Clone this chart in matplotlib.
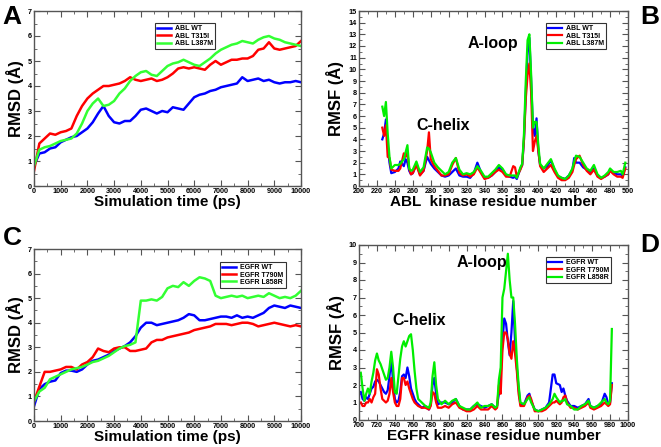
import numpy as np
import matplotlib.pyplot as plt
from matplotlib.ticker import MultipleLocator

plt.rcParams['font.family'] = ['Liberation Sans', 'DejaVu Sans']
plt.rcParams['font.weight'] = 'bold'

# ---- RMSD time grid (ps), every 200 ps ----
time_ps = np.arange(0, 10001, 200)

abl_wt = [0.8, 1.3, 1.35, 1.5, 1.55, 1.75, 1.85, 1.95, 2.0, 2.15, 2.3, 2.55, 2.9, 3.2, 2.8,
          2.55, 2.5, 2.6, 2.6, 2.8, 3.05, 3.1, 3.0, 2.9, 3.0, 2.95, 3.15, 3.1, 3.05, 3.3,
          3.55, 3.65, 3.7, 3.8, 3.85, 3.95, 4.0, 4.05, 4.1, 4.35, 4.2, 4.25, 4.3, 4.2, 4.25,
          4.15, 4.1, 4.15, 4.15, 4.2, 4.15]
abl_t315i = [0.6, 1.7, 1.9, 2.1, 2.05, 2.15, 2.2, 2.3, 2.8, 3.2, 3.5, 3.7, 3.85, 4.0, 4.0,
             4.05, 4.1, 4.2, 4.35, 4.25, 4.2, 4.25, 4.3, 4.2, 4.25, 4.35, 4.5, 4.7, 4.75, 4.7,
             4.75, 4.7, 4.65, 4.85, 5.0, 4.85, 4.95, 5.05, 5.05, 5.1, 5.1, 5.2, 5.45, 5.5, 5.75,
             5.5, 5.45, 5.5, 5.55, 5.6, 5.8]
abl_l387m = [0.8, 1.45, 1.55, 1.6, 1.7, 1.8, 1.85, 1.9, 2.1, 2.5, 3.0, 3.3, 3.5, 3.2, 3.25,
             3.4, 3.7, 3.9, 4.2, 4.4, 4.55, 4.6, 4.45, 4.4, 4.6, 4.8, 4.9, 4.95, 5.05, 4.95,
             4.85, 4.8, 4.95, 5.1, 5.3, 5.45, 5.55, 5.65, 5.7, 5.8, 5.75, 5.7, 5.85, 5.95, 6.0,
             5.9, 5.85, 5.75, 5.7, 5.65, 5.6]

egfr_wt = [0.6, 1.3, 1.5, 1.6, 1.65, 1.95, 2.05, 2.05, 2.0, 2.1, 2.3, 2.45, 2.5, 2.6, 2.7,
           2.85, 2.95, 3.05, 3.2, 3.45, 3.8, 4.0, 4.0, 3.9, 3.95, 4.0, 4.05, 4.1, 4.2, 4.35,
           4.3, 4.1, 4.1, 4.15, 4.2, 4.25, 4.25, 4.2, 4.3, 4.2, 4.25, 4.2, 4.3, 4.4, 4.6,
           4.7, 4.65, 4.6, 4.7, 4.65, 4.6]
egfr_t790m = [0.8, 1.4, 2.0, 2.0, 2.05, 2.1, 2.2, 2.2, 2.1, 2.3, 2.4, 2.6, 2.95, 2.85, 2.8,
              2.95, 3.0, 3.0, 2.85, 2.85, 2.9, 2.95, 3.2, 3.3, 3.3, 3.4, 3.45, 3.5, 3.55, 3.6,
              3.7, 3.75, 3.8, 3.85, 3.95, 3.95, 3.95, 3.9, 3.95, 4.0, 4.0, 3.95, 3.85, 3.9, 3.95,
              4.0, 3.95, 3.9, 3.85, 3.9, 3.85]
egfr_l858r = [0.8, 1.2, 1.35, 1.7, 1.8, 1.9, 2.0, 2.1, 2.15, 2.2, 2.3, 2.4, 2.45, 2.55, 2.65,
              2.8, 2.95, 3.05, 3.1, 3.2, 4.9, 4.9, 4.95, 4.9, 5.05, 5.4, 5.5, 5.45, 5.65, 5.5,
              5.7, 5.85, 5.8, 5.7, 5.1, 5.0, 5.05, 5.1, 5.05, 5.1, 5.0, 5.05, 5.1, 5.05, 5.2,
              5.1, 5.0, 5.05, 5.0, 5.1, 5.3]

# ---- ABL RMSF ----
abl_res = [226, 228, 230, 232, 234, 236, 240, 244, 246, 250, 252, 254, 256, 258, 260, 264,
           268, 272, 276, 278, 280, 284, 288, 292, 296, 300, 304, 308, 312, 316, 320, 324,
           328, 332, 336, 340, 344, 348, 352, 356, 360, 364, 368, 372, 374, 376, 380, 382,
           384, 386, 388, 390, 392, 394, 396, 398, 400, 402, 406, 410, 414, 418, 422, 426,
           430, 434, 438, 440, 442, 446, 450, 454, 458, 462, 466, 470, 474, 478, 480, 484,
           488, 492, 494, 497]
abl_rmsf_wt = [4.0, 4.5, 5.7, 3.5, 2.0, 1.1, 1.2, 1.5, 2.1, 1.7, 2.3, 2.0, 1.3, 1.0, 1.1, 1.9,
               1.0, 1.3, 2.5, 2.2, 1.9, 1.5, 1.2, 0.9, 0.8, 0.9, 1.2, 1.5, 0.9, 0.8, 0.8, 0.7,
               1.1, 2.0, 1.2, 0.7, 0.7, 0.9, 1.2, 1.6, 1.4, 0.9, 0.8, 0.7, 0.8, 0.6, 1.5, 1.8,
               4.0, 8.0, 11.5, 12.7, 9.0, 5.0, 4.3, 5.8, 3.0, 1.8, 1.5, 1.7, 2.2, 1.4, 0.8, 0.7,
               0.6, 0.9, 1.4, 2.4, 2.0, 2.0, 1.6, 1.4, 1.2, 1.5, 0.9, 0.7, 0.8, 1.0, 1.4, 1.1,
               1.0, 1.0, 0.9, 1.6]
abl_rmsf_t315i = [5.0, 4.3, 5.2, 2.5, 2.4, 1.4, 1.3, 1.3, 1.5, 2.8, 2.5, 2.9, 1.5, 1.0, 1.1, 1.8,
                  0.9, 1.3, 3.0, 4.6, 2.3, 1.7, 1.3, 0.9, 0.9, 1.0, 1.8, 2.4, 1.1, 0.9, 1.0, 0.8,
                  1.0, 1.6, 1.1, 0.6, 0.7, 0.9, 1.2, 1.4, 1.2, 0.8, 0.8, 1.7, 1.6, 0.8, 1.4, 1.8,
                  4.0, 7.5, 9.5, 10.5, 8.0, 3.0, 3.8, 4.3, 3.0, 1.7, 1.2, 1.5, 1.8, 1.2, 0.7, 0.5,
                  0.5, 0.7, 1.2, 1.8, 2.3, 2.6, 1.8, 1.3, 1.0, 1.4, 0.8, 0.6, 0.8, 1.0, 1.3, 1.0,
                  0.8, 0.8, 0.7, 1.5]
abl_rmsf_l387m = [6.8, 6.0, 7.2, 4.5, 2.5, 1.5, 1.8, 1.8, 1.9, 2.3, 2.9, 3.5, 1.5, 1.3, 1.4, 2.1,
                  1.2, 1.6, 3.3, 3.2, 2.9, 2.0, 1.6, 1.3, 1.0, 1.2, 2.0, 2.4, 1.4, 1.0, 1.1, 1.0,
                  1.2, 1.7, 1.3, 0.8, 0.8, 1.1, 1.4, 1.8, 1.5, 1.0, 0.9, 0.9, 0.9, 0.7, 1.6, 1.9,
                  4.5, 9.0, 12.5, 13.0, 9.5, 5.0, 5.5, 5.5, 3.5, 1.9, 1.5, 1.9, 2.3, 1.5, 0.9, 0.7,
                  0.6, 0.9, 1.5, 2.1, 2.6, 2.5, 2.0, 1.5, 1.3, 1.8, 1.0, 0.7, 0.9, 1.2, 1.5, 1.2,
                  1.2, 1.3, 1.0, 2.0]

# ---- EGFR RMSF ----
egfr_res = [702, 704, 706, 708, 710, 712, 714, 716, 718, 720, 722, 724, 726, 728, 730, 732,
            734, 736, 738, 740, 742, 744, 746, 748, 750, 752, 754, 756, 758, 760, 762, 764,
            766, 770, 774, 778, 780, 782, 784, 786, 788, 792, 796, 800, 804, 808, 812, 816,
            820, 824, 828, 832, 836, 840, 844, 848, 852, 854, 856, 858, 860, 862, 864, 866,
            868, 870, 872, 874, 876, 878, 880, 884, 888, 890, 892, 896, 900, 904, 908, 912,
            916, 918, 920, 924, 926, 928, 930, 932, 936, 940, 944, 948, 952, 956, 958, 962,
            966, 970, 974, 976, 978, 980, 982]
egfr_rmsf_wt = [1.6, 1.2, 1.1, 1.3, 1.2, 1.5, 1.8, 1.9, 2.2, 2.3, 2.2, 2.0, 1.8, 1.6, 1.5, 1.7,
                2.5, 3.5, 2.2, 1.2, 1.0, 1.1, 1.6, 2.5, 2.6, 2.4, 3.0, 2.5, 1.8, 1.5, 1.2, 1.0,
                0.9, 0.7, 0.8, 0.6, 0.9, 2.0, 2.4, 1.5, 0.9, 1.0, 1.0, 0.9, 1.0, 1.2, 0.8, 0.6,
                0.6, 0.6, 0.8, 0.9, 0.8, 0.7, 0.8, 0.9, 0.7, 0.8, 1.5, 2.5, 4.5, 5.8, 5.5, 4.5,
                3.7, 5.0, 6.8, 4.5, 3.0, 1.8, 0.9, 0.9, 1.4, 1.5, 1.1, 0.6, 0.5, 0.6, 0.7, 1.0,
                2.6, 2.6, 2.1, 2.0, 1.6, 1.8, 1.4, 1.1, 0.8, 0.8, 0.7, 0.8, 0.9, 1.2, 0.8, 0.7,
                0.8, 0.9, 1.5, 1.3, 0.9, 1.0, 2.1]
egfr_rmsf_t790m = [1.0, 0.8, 0.8, 1.0, 1.0, 1.2, 1.0, 1.3, 1.5, 2.9, 2.6, 1.8, 1.2, 1.1, 1.0, 1.1,
                   1.5, 2.4, 1.6, 1.0, 0.8, 0.8, 1.2, 2.4, 2.4, 2.0, 2.2, 1.8, 1.5, 1.2, 1.0, 0.9,
                   0.8, 0.7, 0.7, 0.6, 0.8, 1.6, 1.5, 1.0, 0.7, 0.7, 0.8, 0.7, 0.9, 1.0, 0.7, 0.6,
                   0.5, 0.5, 0.6, 0.8, 0.6, 0.6, 0.6, 0.8, 0.6, 0.7, 2.0, 1.5, 4.0, 5.0, 5.0, 4.6,
                   3.8, 3.5, 4.5, 3.8, 2.8, 1.5, 0.8, 0.8, 1.3, 1.4, 1.2, 0.5, 0.5, 0.5, 0.6, 0.8,
                   1.0, 1.0, 1.1, 0.9, 1.0, 1.3, 1.4, 1.0, 0.7, 0.7, 0.6, 0.7, 0.8, 1.0, 0.7, 0.6,
                   0.7, 0.8, 1.0, 0.9, 0.8, 0.9, 2.0]
egfr_rmsf_l858r = [2.7, 1.8, 1.1, 1.5, 1.8, 1.5, 2.2, 2.7, 3.4, 3.8, 3.4, 3.2, 2.9, 2.6, 2.3, 2.4,
                   3.0, 3.9, 3.0, 1.6, 1.5, 2.5, 3.5, 4.2, 4.5, 4.2, 4.5, 4.8, 4.9, 4.0, 2.8, 1.8,
                   1.2, 1.0, 0.8, 0.7, 1.0, 2.5, 3.3, 2.0, 1.2, 0.9, 1.1, 0.9, 1.1, 1.2, 0.8, 0.7,
                   0.6, 0.6, 0.8, 1.0, 0.7, 0.8, 0.8, 0.9, 0.7, 0.8, 2.3, 3.0, 7.0, 7.5, 8.5, 9.5,
                   8.0, 7.0, 7.0, 5.5, 3.5, 2.0, 1.0, 0.9, 1.2, 1.3, 1.0, 0.6, 0.5, 0.6, 0.7, 0.9,
                   1.2, 1.5, 1.3, 1.0, 1.1, 1.1, 1.2, 0.9, 0.8, 0.6, 0.6, 0.8, 0.9, 1.1, 0.8, 0.7,
                   0.8, 1.0, 1.2, 1.0, 0.9, 1.1, 5.2]

BLUE, RED, GREEN = '#0000ff', '#ff0000', '#00ee00'
W, H = 661, 447


def axes_px(fig, left, top, right, bottom):
    return fig.add_axes([left / W, 1 - bottom / H, (right - left) / W, (bottom - top) / H])


def style(ax, xmaj, xmin, ymaj, ymin):
    for s in ax.spines.values():
        s.set_color('#555555')
        s.set_linewidth(1.0)
    ax.xaxis.set_major_locator(MultipleLocator(xmaj))
    ax.xaxis.set_minor_locator(MultipleLocator(xmin))
    ax.yaxis.set_major_locator(MultipleLocator(ymaj))
    ax.yaxis.set_minor_locator(MultipleLocator(ymin))
    ax.tick_params(which='both', direction='in', top=True, right=True, labelsize=5.2,
                   pad=1.5, color='#555555')
    ax.tick_params(which='major', length=4, width=0.8)
    ax.tick_params(which='minor', length=2, width=0.6)
    for lab in ax.get_xticklabels() + ax.get_yticklabels():
        lab.set_fontweight('bold')


def legend(ax, labels, bbox):
    leg = ax.legend(labels, loc='upper left', bbox_to_anchor=bbox, fontsize=5.0,
                    frameon=True, fancybox=False, borderpad=0.3, labelspacing=0.05,
                    handlelength=2.0, handletextpad=0.6, borderaxespad=0)
    leg.get_frame().set_edgecolor('black')
    leg.get_frame().set_linewidth(0.8)
    for t in leg.get_texts():
        t.set_fontweight('bold')


fig = plt.figure(figsize=(6.61, 4.47), dpi=100)

# Panel A
axA = axes_px(fig, 34, 11, 301, 186)
axA.plot(time_ps, abl_wt, color=BLUE, lw=1.8)
axA.plot(time_ps, abl_t315i, color=RED, lw=1.8)
axA.plot(time_ps, abl_l387m, color='#33ff33', lw=1.8)
axA.set_xlim(0, 10000)
axA.set_ylim(0, 7)
style(axA, 1000, 500, 1, 0.5)
axA.set_xlabel('Simulation time (ps)', fontsize=11, fontweight='bold', labelpad=0)
axA.set_ylabel('RMSD (Å)', fontsize=12, fontweight='bold', labelpad=3)
legend(axA, ['ABL WT', 'ABL T315I', 'ABL L387M'], (0.453, 0.93))

# Panel B
axB = axes_px(fig, 359, 11, 628, 186)
axB.plot(abl_res, abl_rmsf_wt, color=BLUE, lw=1.6)
axB.plot(abl_res, abl_rmsf_t315i, color=RED, lw=1.6)
axB.plot(abl_res, abl_rmsf_l387m, color=GREEN, lw=1.6)
axB.set_xlim(200, 500)
axB.set_ylim(0, 15)
style(axB, 20, 10, 1, 0.5)
axB.set_xlabel('ABL  kinase residue number', fontsize=11, fontweight='bold', labelpad=0)
axB.set_ylabel('RMSF (Å)', fontsize=12, fontweight='bold', labelpad=3)
axB.text(349, 12.2, 'A-loop', ha='center', va='center', fontsize=11.5, fontweight='bold')
axB.text(294, 5.2, 'C-helix', ha='center', va='center', fontsize=11.5, fontweight='bold')
legend(axB, ['ABL WT', 'ABL T315I', 'ABL L387M'], (0.695, 0.93))

# Panel C
axC = axes_px(fig, 34, 249, 301, 421)
axC.plot(time_ps, egfr_wt, color=BLUE, lw=1.8)
axC.plot(time_ps, egfr_t790m, color=RED, lw=1.8)
axC.plot(time_ps, egfr_l858r, color='#33ff33', lw=1.8)
axC.set_xlim(0, 10000)
axC.set_ylim(0, 7)
style(axC, 1000, 500, 1, 0.5)
axC.set_xlabel('Simulation time (ps)', fontsize=11, fontweight='bold', labelpad=0)
axC.set_ylabel('RMSD (Å)', fontsize=12, fontweight='bold', labelpad=3)
legend(axC, ['EGFR WT', 'EGFR T790M', 'EGFR L858R'], (0.697, 0.924))

# Panel D
axD = axes_px(fig, 359, 245, 628, 420)
axD.plot(egfr_res, egfr_rmsf_wt, color=BLUE, lw=1.6)
axD.plot(egfr_res, egfr_rmsf_t790m, color=RED, lw=1.6)
axD.plot(egfr_res, egfr_rmsf_l858r, color=GREEN, lw=1.6)
axD.set_xlim(700, 1000)
axD.set_ylim(0, 10)
style(axD, 20, 10, 1, 0.5)
axD.set_xlabel('EGFR kinase residue number', fontsize=11, fontweight='bold', labelpad=0)
axD.set_ylabel('RMSF (Å)', fontsize=12, fontweight='bold', labelpad=3)
axD.text(837, 9.0, 'A-loop', ha='center', va='center', fontsize=11.5, fontweight='bold')
axD.text(767, 5.66, 'C-helix', ha='center', va='center', fontsize=11.5, fontweight='bold')
legend(axD, ['EGFR WT', 'EGFR T790M', 'EGFR L858R'], (0.695, 0.93))

# panel letters
for lab, x, y in [('A', 12, 17), ('B', 650, 17), ('C', 12, 238), ('D', 650, 245)]:
    fig.text(x / W, 1 - y / H, lab, ha='center', va='center', fontsize=19, fontweight='bold')

fig.savefig('out.png', dpi=100)
